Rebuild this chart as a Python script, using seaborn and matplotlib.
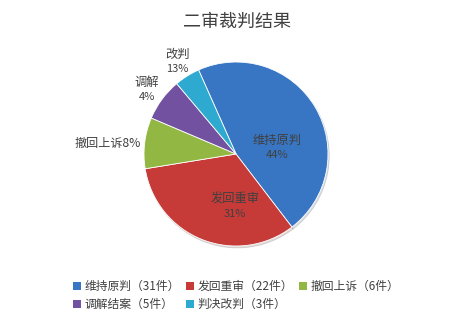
import numpy as np
import matplotlib
matplotlib.use("Agg")
import matplotlib.pyplot as plt
import seaborn as sns
from matplotlib.patches import Patch

categories = ["维持原判", "发回重审", "撤回上诉", "调解结案", "判决改判"]
counts = [31, 22, 6, 5, 3]
slice_labels = ["维持原判", "发回重审", "撤回上诉", "调解", "改判"]
pct_labels = ["44%", "31%", "8%", "4%", "13%"]
legend_labels = ["维持原判（31件）", "发回重审（22件）", "撤回上诉（6件）", "调解结案（5件）", "判决改判（3件）"]
title = "二审裁判结果"

sns.set_theme(style="white")
plt.rcParams['font.family'] = ['Noto Sans CJK SC', 'DejaVu Sans']

colors = ["#3876c4", "#c63a38", "#92b743", "#7151a0", "#2ea9cf"]

fig = plt.figure(figsize=(4.7, 3.31), dpi=100)
cx, cy, r = 236, 154, 92
W, H = 470, 331
ax = fig.add_axes([(cx - r) / W, (H - cy - r) / H, 2 * r / W, 2 * r / H])
startangle = 114
wedges, _ = ax.pie(counts, colors=colors, startangle=startangle, counterclock=False,
                   radius=1.0, wedgeprops=dict(linewidth=0.6, edgecolor="white"),
                   shadow=dict(ox=0.01, oy=-0.015, alpha=0.15))
ax.set_xlim(-1, 1)
ax.set_ylim(-1, 1)
ax.set_aspect("equal")
ax.axis("off")

# label anchor positions (layout, in pie-radius units)
label_pos = [(0.45, 0.07), (-0.01, -0.565), (-1.39, 0.12), (-0.97, 0.70), (-0.64, 1.01)]
tc = "#404040"
for i in range(len(counts)):
    x, y = label_pos[i]
    if i == 2:
        ax.text(x, y, slice_labels[i] + pct_labels[i], ha="center", va="center",
                fontsize=8.7, color=tc)
    else:
        ax.text(x, y + 0.075, slice_labels[i], ha="center", va="center", fontsize=8.8, color=tc)
        ax.text(x, y - 0.085, pct_labels[i], ha="center", va="center", fontsize=8, color=tc)

fig.text(0.504, 0.934, title, ha="center", va="center", fontsize=13, color="#404040")

handles = [Patch(facecolor=colors[i], edgecolor="none") for i in range(5)]
order = [0, 3, 1, 4, 2]
fig.legend([handles[i] for i in order], [legend_labels[i] for i in order],
           ncol=3, loc="center", bbox_to_anchor=(0.502, 0.107), frameon=False,
           fontsize=8.5, handlelength=0.7, handleheight=0.7, handletextpad=0.3,
           columnspacing=0.5, labelspacing=0.45, labelcolor="#404040")

fig.savefig("out.png", dpi=100)
